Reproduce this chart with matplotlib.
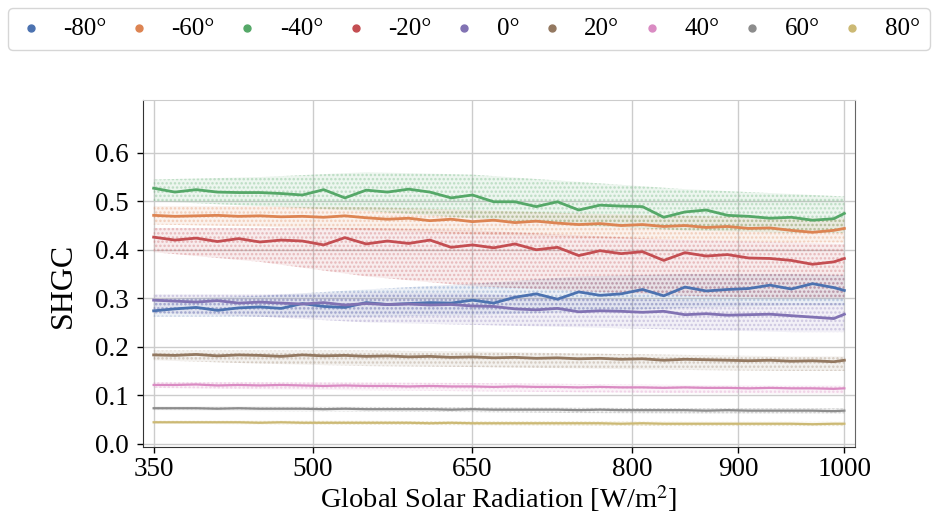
import matplotlib
matplotlib.use("Agg")
import matplotlib.pyplot as plt
import numpy as np

plt.rcParams['font.family'] = ['Liberation Serif', 'DejaVu Serif']
plt.rcParams['mathtext.fontset'] = 'stix'
plt.rcParams['hatch.linewidth'] = 1.2

labels = ['-80°', '-60°', '-40°', '-20°', '0°', '20°', '40°', '60°', '80°']
colors = ['#4C72B0', '#DD8452', '#55A868', '#C44E52', '#8172B3',
          '#937860', '#DA8BC3', '#8C8C8C', '#CCB974']

x = [350, 370, 390, 410, 430, 450, 470, 490, 510, 530, 550, 570, 590, 610, 630,
     650, 670, 690, 710, 730, 750, 770, 790, 810, 830, 850, 870, 890, 910, 930,
     950, 970, 990, 1000]

m80 = [0.274, 0.278, 0.281, 0.275, 0.280, 0.282, 0.279, 0.289, 0.283, 0.281, 0.291,
       0.287, 0.289, 0.291, 0.290, 0.296, 0.290, 0.302, 0.309, 0.298, 0.313, 0.306,
       0.309, 0.318, 0.305, 0.323, 0.315, 0.318, 0.320, 0.327, 0.319, 0.330, 0.322, 0.316]
m60 = [0.471, 0.469, 0.470, 0.471, 0.469, 0.470, 0.468, 0.469, 0.467, 0.470, 0.466,
       0.463, 0.465, 0.460, 0.463, 0.458, 0.461, 0.456, 0.459, 0.455, 0.452, 0.454,
       0.450, 0.452, 0.448, 0.450, 0.446, 0.448, 0.444, 0.445, 0.440, 0.436, 0.440, 0.444]
m40 = [0.527, 0.519, 0.524, 0.519, 0.518, 0.518, 0.516, 0.513, 0.524, 0.507, 0.523,
       0.519, 0.525, 0.519, 0.507, 0.513, 0.499, 0.499, 0.489, 0.499, 0.482, 0.492,
       0.490, 0.489, 0.467, 0.478, 0.482, 0.471, 0.469, 0.465, 0.467, 0.461, 0.464, 0.475]
m20n = [0.426, 0.420, 0.424, 0.417, 0.423, 0.416, 0.420, 0.418, 0.410, 0.425, 0.412,
        0.418, 0.413, 0.420, 0.405, 0.410, 0.404, 0.412, 0.400, 0.405, 0.388, 0.398,
        0.392, 0.396, 0.378, 0.394, 0.387, 0.390, 0.383, 0.382, 0.378, 0.370, 0.375, 0.382]
p0 = [0.296, 0.294, 0.292, 0.295, 0.290, 0.292, 0.290, 0.288, 0.291, 0.286, 0.289,
      0.287, 0.288, 0.286, 0.287, 0.284, 0.283, 0.278, 0.276, 0.279, 0.272, 0.274,
      0.273, 0.271, 0.273, 0.266, 0.268, 0.265, 0.266, 0.267, 0.264, 0.261, 0.258, 0.267]
p20 = [0.183, 0.182, 0.184, 0.181, 0.183, 0.182, 0.180, 0.183, 0.181, 0.182, 0.180,
       0.181, 0.179, 0.180, 0.178, 0.179, 0.177, 0.178, 0.176, 0.177, 0.175, 0.176,
       0.174, 0.175, 0.172, 0.174, 0.173, 0.172, 0.171, 0.172, 0.170, 0.171, 0.169, 0.172]
p40 = [0.121, 0.121, 0.122, 0.120, 0.121, 0.120, 0.121, 0.120, 0.119, 0.120, 0.119,
       0.119, 0.118, 0.119, 0.118, 0.118, 0.117, 0.118, 0.117, 0.117, 0.116, 0.117,
       0.116, 0.116, 0.115, 0.116, 0.115, 0.115, 0.114, 0.115, 0.114, 0.114, 0.113, 0.114]
p60 = [0.073, 0.073, 0.073, 0.072, 0.073, 0.072, 0.072, 0.072, 0.071, 0.072, 0.071,
       0.071, 0.071, 0.071, 0.070, 0.071, 0.070, 0.070, 0.070, 0.070, 0.069, 0.070,
       0.069, 0.069, 0.069, 0.069, 0.068, 0.069, 0.068, 0.068, 0.068, 0.068, 0.067, 0.068]
p80 = [0.044, 0.044, 0.044, 0.044, 0.044, 0.043, 0.044, 0.043, 0.043, 0.043, 0.043,
       0.043, 0.043, 0.042, 0.043, 0.042, 0.042, 0.042, 0.042, 0.042, 0.042, 0.042,
       0.041, 0.042, 0.041, 0.041, 0.041, 0.041, 0.041, 0.041, 0.041, 0.040, 0.041, 0.041]
means = [m80, m60, m40, m20n, p0, p20, p40, p60, p80]

# envelope of the scattered samples
env_x = [350, 450, 550, 650, 750, 850, 950, 1000]
upper = [
    [0.298, 0.305, 0.318, 0.330, 0.345, 0.350, 0.350, 0.348],
    [0.490, 0.490, 0.488, 0.482, 0.475, 0.470, 0.465, 0.465],
    [0.545, 0.550, 0.560, 0.555, 0.540, 0.525, 0.515, 0.510],
    [0.445, 0.445, 0.445, 0.440, 0.430, 0.420, 0.415, 0.412],
    [0.308, 0.308, 0.312, 0.310, 0.300, 0.295, 0.290, 0.290],
    [0.192, 0.192, 0.192, 0.190, 0.186, 0.183, 0.180, 0.180],
    [0.127, 0.127, 0.126, 0.125, 0.123, 0.121, 0.120, 0.120],
    [0.077, 0.077, 0.076, 0.075, 0.074, 0.073, 0.073, 0.073],
    [0.047, 0.047, 0.047, 0.046, 0.046, 0.045, 0.045, 0.045],
]
lower = [
    [0.262, 0.262, 0.262, 0.265, 0.272, 0.280, 0.285, 0.285],
    [0.452, 0.448, 0.440, 0.432, 0.425, 0.420, 0.415, 0.415],
    [0.500, 0.490, 0.480, 0.465, 0.450, 0.440, 0.435, 0.435],
    [0.395, 0.375, 0.345, 0.325, 0.315, 0.305, 0.300, 0.300],
    [0.270, 0.262, 0.250, 0.245, 0.240, 0.235, 0.230, 0.230],
    [0.172, 0.165, 0.160, 0.158, 0.155, 0.152, 0.150, 0.150],
    [0.115, 0.112, 0.110, 0.108, 0.106, 0.104, 0.103, 0.103],
    [0.069, 0.067, 0.066, 0.065, 0.063, 0.062, 0.062, 0.062],
    [0.041, 0.040, 0.039, 0.038, 0.037, 0.036, 0.036, 0.036],
]

xticks = [350, 500, 650, 800, 900, 1000]
yticks = [0.0, 0.1, 0.2, 0.3, 0.4, 0.5, 0.6]

fig = plt.figure(figsize=(9.35, 5.16), dpi=100)
ax = fig.add_axes([143/935, 1 - 447/516, (855 - 143)/935, (447 - 100)/516])

for i in range(len(labels)):
    ax.fill_between(env_x, lower[i], upper[i], facecolor=colors[i], alpha=0.10,
                    linewidth=0, zorder=2)
    ax.fill_between(env_x, lower[i], upper[i], facecolor='none', edgecolor=colors[i],
                    hatch='....', alpha=0.30, linewidth=0, zorder=2)

for i in range(len(labels)):
    lw = 2.0 if i < 6 else 1.6
    ax.plot(x, means[i], color=colors[i], lw=lw, zorder=3)
    ax.scatter([], [], s=25, color=colors[i], label=labels[i])

ax.set_xlim(340, 1010)
ax.set_ylim(-0.007, 0.709)
ax.set_xticks(xticks)
ax.set_xticklabels([str(v) for v in xticks])
ax.set_yticks(yticks)
ax.set_yticklabels([f"{v:.1f}" for v in yticks])
ax.tick_params(axis='both', labelsize=19.5, direction='out', length=4, width=1, colors='black')
ax.tick_params(axis='y', pad=6)
ax.tick_params(axis='x', pad=3)
ax.grid(True, color='#cccccc', lw=1.0, zorder=0)
ax.set_axisbelow(True)
for side in ['left', 'bottom']:
    ax.spines[side].set_color('#333333')
ax.spines['right'].set_color('#666666')
ax.spines['top'].set_color('#cccccc')

ax.set_xlabel('Global Solar Radiation [W/m$^2$]', fontsize=20.5, labelpad=1)
ax.set_ylabel('SHGC', fontsize=23)
ax.yaxis.set_label_coords(-0.091, 0.465)

fig.legend(loc='lower left', bbox_to_anchor=(8/935, 1 - 50/516, (930 - 8)/935, 40/516),
           mode='expand', ncol=9, fontsize=18, frameon=True, fancybox=True,
           shadow=False, edgecolor='#cccccc', handletextpad=0.8, borderaxespad=0,
           markerscale=1.0, handlelength=1.0)

fig.savefig('out.png', dpi=100)
